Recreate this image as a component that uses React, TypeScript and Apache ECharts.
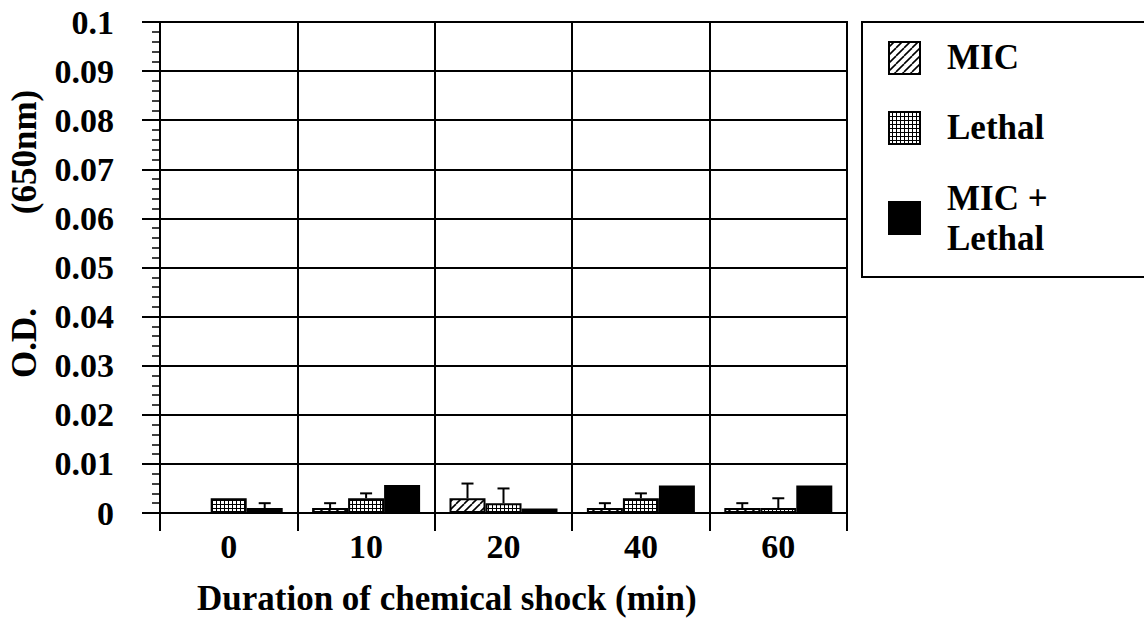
import React, { useEffect, useRef } from "react";
import * as echarts from "echarts";

const categories = ["0", "10", "20", "40", "60"];
const seriesNames = ["MIC", "Lethal", "MIC + Lethal"];
const micValues = [0, 0.001, 0.003, 0.001, 0.001];
const micErrors = [0, 0.001, 0.003, 0.001, 0.001];
const lethalValues = [0.003, 0.003, 0.002, 0.003, 0.001];
const lethalErrors = [0, 0.001, 0.003, 0.001, 0.002];
const comboValues = [0.001, 0.0057, 0.0009, 0.0056, 0.0056];
const comboErrors = [0.001, 0, 0, 0, 0];
const yTicks = [0, 0.01, 0.02, 0.03, 0.04, 0.05, 0.06, 0.07, 0.08, 0.09, 0.1];

const FONT = "Liberation Serif";
const BAR_W = 36;

function hatchPattern() {
  const c = document.createElement("canvas");
  c.width = 8;
  c.height = 8;
  const ctx = c.getContext("2d")!;
  ctx.fillStyle = "#fff";
  ctx.fillRect(0, 0, 8, 8);
  ctx.strokeStyle = "#000";
  ctx.lineWidth = 1.6;
  for (const d of [-8, 0, 8]) {
    ctx.beginPath();
    ctx.moveTo(d, 8);
    ctx.lineTo(d + 8, 0);
    ctx.stroke();
  }
  return { image: c.toDataURL(), repeat: "repeat", imageWidth: 8, imageHeight: 8 };
}

function dotPattern() {
  const c = document.createElement("canvas");
  c.width = 4;
  c.height = 4;
  const ctx = c.getContext("2d")!;
  ctx.fillStyle = "#000";
  ctx.fillRect(0, 0, 4, 4);
  ctx.fillStyle = "#fff";
  ctx.fillRect(1, 1, 3, 3);
  return { image: c.toDataURL(), repeat: "repeat", imageWidth: 4, imageHeight: 4 };
}

export default function App() {
  const ref = useRef<HTMLDivElement>(null);
  useEffect(() => {
    const chart = echarts.init(ref.current!, null, { renderer: "svg" });
    const hatch = hatchPattern();
    const dots = dotPattern();
    const fills: any[] = [hatch, dots, "#000"];
    const values = [micValues, lethalValues, comboValues];
    const errors = [micErrors, lethalErrors, comboErrors];

    const errData: number[][] = [];
    values.forEach((vals, s) => {
      vals.forEach((v, i) => {
        if (errors[s][i] > 0) errData.push([i, s, v, errors[s][i]]);
      });
    });

    const txt = (size: number) => ({ fontFamily: FONT, fontWeight: "bold", fontSize: size, fill: "#000" });
    const legendIconY = [42, 112, 202];
    const legendLines = [["MIC"], ["Lethal"], ["MIC +", "Lethal"]];
    const legendTextY = [[57], [127], [198, 238]];
    const graphic: any[] = [
      {
        type: "rect",
        shape: { x: 862, y: 22, width: 320, height: 255 },
        style: { fill: "#fff", stroke: "#000", lineWidth: 2 },
        z: 10,
      },
      {
        type: "text",
        x: 24,
        y: 152,
        rotation: Math.PI / 2,
        style: { text: "(650nm)", ...txt(35), align: "center", verticalAlign: "middle" },
      },
      {
        type: "text",
        x: 24,
        y: 343,
        rotation: Math.PI / 2,
        style: { text: "O.D.", ...txt(35), align: "center", verticalAlign: "middle" },
      },
    ];
    seriesNames.forEach((name, s) => {
      graphic.push({
        type: "rect",
        shape: { x: 889, y: legendIconY[s], width: 31, height: 32 },
        style: { fill: fills[s], stroke: "#000", lineWidth: 2 },
        z: 11,
      });
      legendLines[s].forEach((line, k) => {
        graphic.push({
          type: "text",
          x: 947,
          y: legendTextY[s][k],
          style: { text: line, ...txt(35), align: "left", verticalAlign: "middle" },
          z: 11,
        });
      });
    });

    chart.setOption({
      animation: false,
      backgroundColor: "#fff",
      textStyle: { fontFamily: FONT },
      title: {
        text: "Duration of chemical shock (min)",
        left: 192,
        top: 576,
        textStyle: { fontFamily: FONT, fontWeight: "bold", fontSize: 35, color: "#000" },
      },
      grid: {
        left: 160,
        right: 297,
        top: 22,
        bottom: 112,
        show: true,
        borderColor: "#000",
        borderWidth: 2,
        containLabel: false,
      },
      xAxis: {
        type: "category",
        data: categories,
        axisLine: { lineStyle: { color: "#000", width: 2 } },
        axisTick: { show: true, length: 18, lineStyle: { color: "#000", width: 2 } },
        axisLabel: { color: "#000", fontFamily: FONT, fontWeight: "bold", fontSize: 34, margin: 16 },
        splitLine: { show: true, lineStyle: { color: "#000", width: 2 } },
      },
      yAxis: {
        type: "value",
        min: 0,
        max: 0.1,
        interval: 0.01,
        axisLine: { show: true, lineStyle: { color: "#000", width: 2 } },
        axisTick: { show: true, length: 18, lineStyle: { color: "#000", width: 2 } },
        minorTick: { show: true, splitNumber: 5, length: 8, lineStyle: { color: "#000", width: 1.5 } },
        axisLabel: {
          color: "#000",
          fontFamily: FONT,
          fontWeight: "bold",
          fontSize: 34,
          margin: 46,
          formatter: (v: number) => {
            const t = yTicks.find((y) => Math.abs(y - v) < 1e-9);
            return t === undefined ? "" : String(t);
          },
        },
        splitLine: { show: true, lineStyle: { color: "#000", width: 2 } },
      },
      series: [
        ...seriesNames.map((name, s) => ({
          type: "bar",
          name,
          data: values[s],
          barWidth: BAR_W,
          barGap: "0%",
          itemStyle: { color: fills[s], borderColor: "#000", borderWidth: 2 },
          z: 2,
        })),
        {
          type: "custom",
          name: "errors",
          data: errData,
          z: 5,
          renderItem: (params: any, api: any) => {
            const ci = api.value(0);
            const s = api.value(1);
            const v = api.value(2);
            const e = api.value(3);
            const base = api.coord([ci, v]);
            const top = api.coord([ci, v + e]);
            const x = base[0] + (s - 1) * BAR_W;
            return {
              type: "group",
              children: [
                { type: "line", shape: { x1: x, y1: base[1], x2: x, y2: top[1] }, style: { stroke: "#000", lineWidth: 2 } },
                { type: "line", shape: { x1: x - 6, y1: top[1], x2: x + 6, y2: top[1] }, style: { stroke: "#000", lineWidth: 2 } },
              ],
            };
          },
        },
      ],
      graphic,
    });
    return () => chart.dispose();
  }, []);
  return <div ref={ref} style={{ width: 1144, height: 625, position: "absolute", left: 0, top: 0 }} />;
}
